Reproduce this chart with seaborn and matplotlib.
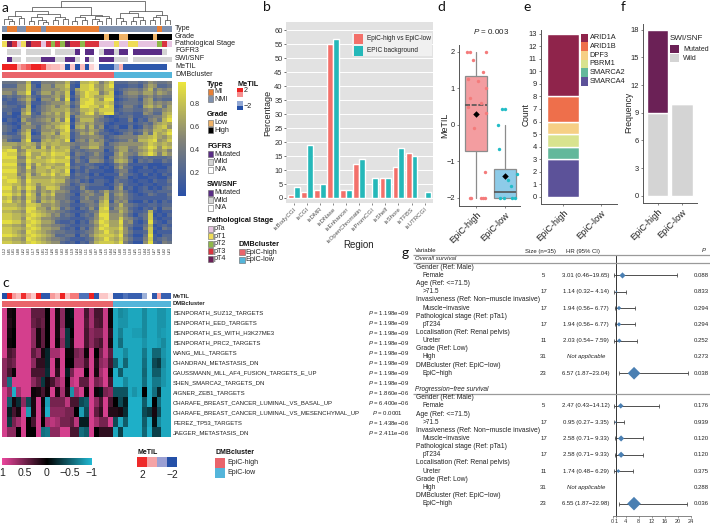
#!/usr/bin/env python3
# -*- coding: utf-8 -*-
"""
Multi panel methylation figure: heatmaps (a, c), region bars (b), MeTIL box (d),
stacked counts (e, f) and the cox forest plot (g).
"""

import numpy as np
import pandas as pd
import matplotlib
matplotlib.use('Agg')
import matplotlib.pyplot as plt
from matplotlib.colors import LinearSegmentedColormap, ListedColormap
from matplotlib.patches import Rectangle
import seaborn as sns

#%% data panel a
type_codes = "N MM NN MMM N MMMMMMMMMMM NNNNNNNNNNNN M NN"
grade_codes = "HHHHHHHHHHHHHHHHHHHHH L HH LL HHHHH L HHH"
stage_codes = "14 3a1 4 33 a 3 2 3 2 4 33 2 333 aaa 1 aa 11 aaaa 2 3 a"
fgfr3_codes = "N WWW N WWWWW N WWWW M N MM N W MM W MM N MMMMMM W N"
swi_codes = "N M WW N WWW MMM WW MM W N M W N MMM WWW N WWWWWWWW"
metil_a = [2, 2, 2, 0.8, 1.2, 1.5, 2, 2, 1.7, 0.7, 0.6, 0.6, 0.4, -2, 0.5, -2, 0.6, -2, 0.4, 0.1,
           -1.9, -1.9, -1.9, -0.9, 0.7, -1.9, -1.9, -1.9, -1.9, -1.9, -1.9, -1.9, -1.9, -1.9, 0]
dmb_codes = "HHHHHHHHHHHHHHHHHHHHHHH LLLLLLLLLLLL"

# one digit per column, beta value is about digit / 10 + 0.05
beta_rows = [
    "33344 71144 45572 17787 46822 23323 54334",
    "22255 82055 36681 08896 57911 12214 65223",
    "44455 82255 55671 68897 57712 34435 73545",
    "55366 91366 46580 57988 46801 45546 64654",
    "23234 62144 56481 47986 68812 34424 53433",
    "12145 73055 47390 38897 59901 23315 62322",
    "21123 61134 55572 48997 78712 33325 64545",
    "32212 70245 64661 39988 69801 44216 75636",
    "22115 71245 66673 47786 88812 33224 53356",
    "13006 82156 57584 36895 79921 22115 42267",
    "11015 52345 56581 56665 41012 23112 34468",
    "02106 43456 47490 47774 32101 14021 45379",
    "21014 63345 66781 56564 41011 12123 25676",
    "32105 54256 57890 67473 50120 03014 36785",
    "32025 71255 65792 45465 31012 23235 47768",
    "21136 80166 74881 36574 22101 34126 38679",
    "43225 82256 56781 34455 41234 44466 78657",
    "52116 91167 67690 45364 52123 35377 89568",
    "66656 76476 77664 34466 51345 55556 87676",
    "77547 67385 86773 25577 42256 64467 98587",
    "89945 87776 87782 32344 40246 63456 86564",
    "98856 96687 98871 43235 31157 54367 97475",
    "99944 86867 87792 31244 30356 52123 22223",
    "88855 97778 98881 42155 41267 63032 31132",
    "99943 85867 76691 22321 10135 41111 00011",
    "88854 94778 67782 31232 01046 32002 01002",
    "99954 75776 87690 21311 10024 41011 10112",
    "88845 84687 96781 32202 01115 32102 01021",
    "98864 86666 76651 22311 10023 30100 11002",
    "89975 97777 87742 31202 21032 21011 02113",
    "88775 87577 76541 24322 20135 21101 10112",
    "99686 98468 87432 15211 11046 12012 01023",
    "88674 86465 75541 13542 46345 31012 21222",
    "99785 97376 84432 04453 37256 42101 32113",
    "78564 87465 64431 13533 57245 42111 11112",
    "89675 96376 75342 04442 68154 51002 02021",
    "77765 88755 65331 12343 78347 43211 22122",
    "88876 99664 76242 03252 89256 52102 13033",
    "77665 98765 54321 11234 88447 53112 71011",
    "88776 89876 45232 02325 99556 42023 80102",
    "88775 98755 43221 11235 89558 54213 81011",
    "99886 89866 52112 02146 98669 45102 92102",
    "77665 98755 44321 12235 89668 43113 70121",
    "88776 89866 55212 03146 98779 52004 81032",
    "88765 98765 43322 12346 79768 53112 80111",
    "99876 89876 52233 03257 88879 42003 91022",
    "77665 98765 44321 11236 79768 53114 81232",
    "88776 89876 55212 02147 88879 42005 92143",
]
sample_ids = ['U%02d' % n for n in [12, 5, 31, 8, 22, 3, 17, 29, 1, 14, 26, 9, 33, 6, 19, 24, 2, 11,
                                    35, 7, 28, 15, 4, 21, 30, 10, 18, 25, 13, 34, 16, 27, 20, 32, 23]]

# dendrogram, [height, left, right], L is a leaf
L = 0
a1 = [.36, [.24, L, [.14, L, L]], [.26, L, L]]
a2 = [.46, [.30, [.16, L, L], [.20, L, [.12, L, L]]], [.34, [.18, L, L], [.22, L, L]]]
b1 = [.42, [.30, [.16, L, L], [.20, L, L]], [.38, [.24, L, [.14, L, L]], [.26, L, L]]]
c1 = [.58, [.50, [.28, L, [.16, L, L]], [.30, [.16, L, L], [.20, L, L]]],
      [.42, [.30, [.18, L, L], L], [.20, L, L]]]
tree = [1.0, [.75, [.57, a1, a2], b1], c1]

#%% data panel b
regions = ['isBodyCGI', 'isCGI', 'isDMR', 'isDNase', 'isEnhancer', 'isOpenChromatin',
           'isPromCGI', 'isShelf', 'isShore', 'isTFBS', 'isUTRCGI']
epic_high_low = [1, 2, 3, 55, 3, 12, 0, 7, 11, 16, 0]
epic_background = [4, 19, 5, 57, 3, 14, 7, 7, 18, 15, 2]

#%% data panel c
gene_sets = ['BENPORATH_SUZ12_TARGETS', 'BENPORATH_EED_TARGETS', 'BENPORATH_ES_WITH_H3K27ME3',
             'BENPORATH_PRC2_TARGETS', 'WANG_MLL_TARGETS', 'CHANDRAN_METASTASIS_DN',
             'GAUSSMANN_MLL_AF4_FUSION_TARGETS_E_UP', 'SHEN_SMARCA2_TARGETS_DN', 'AIGNER_ZEB1_TARGETS',
             'CHARAFE_BREAST_CANCER_LUMINAL_VS_BASAL_UP', 'CHARAFE_BREAST_CANCER_LUMINAL_VS_MESENCHYMAL_UP',
             'PEREZ_TP53_TARGETS', 'JAEGER_METASTASIS_DN']
gene_set_p = ['1.198e−09'] * 8 + ['1.860e−06', '6.400e−06', '0.0001', '1.438e−06', '2.411e−06']
metil_c = [-2, 2, 0.9, 0.6, 1.9, 0.9, 0.5, 2, -1.9, -1.9, 0.9, 0.6, 2, 0.6, 1.2, 1.2, -1.6, -1.6, 2, -1.9,
           0.5, 0.5, 0.2, -1.9, -1.9, -1.6, -1.8, -1.8, -1.8, -0.9, 0, -1.9, 0.8, -1.8, -1.8]
enrichment = [
    [.9, .1, .05, .9, .9, .9, .4, .4, .4, 0, .9, .1, .6, -.05, -.1, .9, .9, .3, .7, .3, .3, .85, .05, -.9, -.75, -.8, -.9, -.9, -.9, -.75, -.9, -.9, -.8, -.8, -.9],
    [.9, .15, .05, .9, .9, .9, .45, .35, .45, 0, .9, .1, .6, -.05, -.05, .9, .9, .35, .7, .35, .3, .85, .05, -.9, -.8, -.8, -.9, -.9, -.9, -.75, -.9, -.9, -.8, -.8, -.9],
    [.9, .1, 0, .9, .9, .9, .6, .1, .4, 0, .9, .1, .7, -.3, 0, .9, .9, .3, .6, .5, .5, .85, .2, -.9, -.7, -.9, -.9, -.85, -.85, -.75, -.9, -.9, -.8, -.85, -.9],
    [.9, .05, 0, .9, .9, .9, .6, .1, .4, 0, .9, .05, .6, -.3, .1, .9, .9, .3, .6, .4, .3, .85, .1, -.9, -.6, -.9, -.9, -.9, -.9, -.8, -.9, -.9, -.85, -.75, -.9],
    [.9, .3, .4, .9, .9, .9, .4, .6, .1, -.2, .7, .7, .9, .05, .05, .5, .6, .05, .9, 0, .5, .85, .4, -.9, -.9, -.75, -.9, -.9, -.9, -.65, -.9, -.55, -.55, -.8, -.9],
    [.6, .4, .5, .9, .9, .9, .6, .2, .2, -.2, .9, .1, .9, 0, 0, .6, .6, .3, .9, .15, .6, .7, .3, -.5, -.9, -.55, -.9, -.9, -.9, -.6, -.9, -.4, -.3, -.75, -.9],
    [.6, .3, .05, .9, .9, .9, .3, .3, .3, -.25, .9, .2, .9, -.15, .5, .9, .9, 0, .9, .1, .7, .9, .05, -.95, -.5, -.9, -.9, -.9, -.9, -.55, -.9, -.5, -.5, -.8, -.9],
    [.6, -.6, .9, .9, .9, .9, .6, .4, -.3, .1, .3, .6, .8, 0, .8, .9, .4, .4, .9, .5, .6, .9, .3, -.95, -.95, -.75, -.9, -.9, -.9, -.6, -.9, -.65, -.65, -.8, -.9],
    [.9, .6, -.95, .7, .9, .9, .05, .1, .3, .05, .9, .1, .7, .1, -.8, .7, .9, .05, .9, .05, -.1, .5, .6, -.45, -.45, -.45, -.9, -.8, -.9, 0, -.9, -.6, -.2, -.9, -.9],
    [.9, -.5, .1, -.25, .6, -.4, .1, .9, .05, -.85, .5, .5, .5, .8, .3, .3, -.4, -.5, .9, .6, .3, .9, .3, 0, -.4, -.15, -.95, -.95, -.95, -.5, -.9, 0, -.6, -.9, -.9],
    [.9, -.15, .3, .1, .9, -.85, .1, .9, .1, -.95, .6, .6, .6, .5, .5, 0, -.85, -.4, .9, .4, .2, .9, .15, .15, .1, -.25, -.95, -.95, -.95, -.4, -.3, .1, -.4, -.9, -.9],
    [.9, -.3, .5, .7, .9, 0, .3, .9, 0, .7, .8, .7, .5, .5, .4, .8, -.15, -.15, .9, .7, .5, .5, .9, -.4, -.9, -.5, -.95, -.95, -.95, -.5, -.9, -.1, -.75, -.9, -.9],
    [.9, .6, .6, 0, .9, 0, 0, .9, -.6, -.65, .6, .6, .9, .9, .3, .3, -.6, -.5, .9, 0, .2, .2, .2, -.9, -.35, -.95, -.95, -.95, -.95, -.55, -.95, -.35, -.35, -.9, -.9],
]

#%% data panel d, offset is the jitter
groups = ['EpiC-high', 'EpiC-low']
metil_high = [2, 2, 2, 1.77, 1.44, 1.25, 1.21, 1.01, 0.75, 0.59, 0.5, 0.34, -0.08, -1.3, -2, -2, -2, -2, -2]
offset_high = [-.33, -.22, .36, -.09, .25, -.28, .07, .33, -.2, .16, -.28, .33, -.07, .31, -.2, -.16, .18, .24, .3]
metil_low = [0.44, 0.44, 0, -0.67, -1.35, -1.5, -1.68, -2, -2, -2, -2]
offset_low = [-.09, .01, -.23, -.21, .4, .1, .22, -.16, -.05, .24, .36]
box_q1 = [-0.7, -2]
box_med = [0.55, -1.83]
box_q3 = [1.35, -1.2]
box_lo = [-2, -2]
box_hi = [2, 0]
box_mean = [0.3, -1.4]

#%% data panel e and f
swi_genes = ['SMARCA4', 'SMARCA2', 'PBRM1', 'DPF3', 'ARID1B', 'ARID1A']
swi_gene_count = [3, 1, 1, 1, 2, 5]
swi_mutated = [9, 0]
swi_wild = [9, 10]

#%% data panel g
os_hr = [3.01, 1.14, 1.94, 1.94, 2.03, np.nan, 6.57]
os_lo = [0.46, 0.32, 0.56, 0.56, 0.54, np.nan, 1.87]
os_hi = [19.65, 4.14, 6.77, 6.77, 7.59, np.nan, 23.04]
os_p = ['0.088', '0.833', '0.294', '0.294', '0.252', '0.273', '0.038']
pfs_hr = [2.47, 0.95, 2.58, 2.58, 1.74, np.nan, 6.55]
pfs_lo = [0.43, 0.27, 0.71, 0.71, 0.48, np.nan, 1.87]
pfs_hi = [14.12, 3.35, 9.33, 9.33, 6.29, np.nan, 22.98]
pfs_p = ['0.176', '0.939', '0.120', '0.120', '0.375', '0.288', '0.036']
cox_size = [5, 17, 17, 17, 11, 31, 23]
cox_head = ['Gender (Ref: Male)', 'Age (Ref: <=71.5)', 'Invasiveness (Ref: Non−muscle invasive)',
            'Pathological stage (Ref: pTa1)', 'Localisation (Ref: Renal pelvis)', 'Grade (Ref: Low)',
            'DMBcluster (Ref: EpiC−low)']
cox_level = ['Female', '>71.5', 'Muscle−invasive', 'pT234', 'Ureter', 'High', 'EpiC−high']

#%% style
sns.set_theme(style='white')
plt.rcParams['font.family'] = ['Liberation Sans', 'DejaVu Sans']
plt.rcParams['axes.linewidth'] = 0.7
plt.rcParams['axes.unicode_minus'] = True
plt.rcParams['mathtext.fontset'] = 'custom'
plt.rcParams['mathtext.it'] = 'Liberation Sans:italic'
plt.rcParams['mathtext.rm'] = 'Liberation Sans'

W, H = 710, 525
fig = plt.figure(figsize=(W / 100, H / 100), dpi=100)

def px_axes(x0, y0, x1, y1, **kw):
    return fig.add_axes([x0 / W, 1 - y1 / H, (x1 - x0) / W, (y1 - y0) / H], **kw)

# overlay in pixel coordinates for labels and legends
ov = px_axes(0, 0, W, H, zorder=20)
ov.set_xlim(0, W)
ov.set_ylim(H, 0)
ov.axis('off')
ov.patch.set_alpha(0)

def put(x, y, s, size=5.2, ha='left', va='center', **kw):
    kw.setdefault('color', '#222222')
    ov.text(x, y, s, fontsize=size, ha=ha, va=va, **kw)

def swatch(x, y, w, h, color, edge='#666666'):
    ov.add_patch(Rectangle((x, y), w, h, facecolor=color, edgecolor=edge, linewidth=0.4))

for lab, lx, ly in [('a', 2, 8), ('b', 263, 7), ('c', 2, 283), ('d', 437, 7), ('e', 523, 7), ('f', 621, 7), ('g', 402, 253)]:
    ov.text(lx, ly, lab, fontsize=10, family='Lato', color='#111111', va='center')

#%% panel a
mi_col = {'M': '#e87f35', 'N': '#8091ae'}
grade_col = {'H': '#000000', 'L': '#efb266'}
stage_col = {'a': '#e6c3e0', '1': '#efdc58', '2': '#8fb84a', '3': '#d9343f', '4': '#6b2058'}
mut_col = {'M': '#5a2d86', 'W': '#d4d4d4', 'N': '#ffffff'}
dmb_col = {'H': '#e9646b', 'L': '#54b5da'}
metil_cmap = LinearSegmentedColormap.from_list('metil', ['#2450a8', '#ffffff', '#ee2222'])

def codes_row(codes, colors, x0, y0, x1, y1):
    codes = codes.replace(' ', '')
    keys = list(colors)
    ax = px_axes(x0, y0, x1, y1)
    sns.heatmap(np.array([[keys.index(c) for c in codes]]), ax=ax, cbar=False, xticklabels=False, yticklabels=False,
                cmap=ListedColormap([colors[k] for k in keys]), vmin=-0.5, vmax=len(keys) - 0.5)
    return ax

def metil_row(values, x0, y0, x1, y1):
    ax = px_axes(x0, y0, x1, y1)
    sns.heatmap(np.array([values]), ax=ax, cbar=False, xticklabels=False, yticklabels=False,
                cmap=metil_cmap, vmin=-2, vmax=2)

def draw_tree(ax, node, next_leaf):
    if node == L:
        return next_leaf, 0, next_leaf + 1
    xl, hl, next_leaf = draw_tree(ax, node[1], next_leaf)
    xr, hr, next_leaf = draw_tree(ax, node[2], next_leaf)
    ax.plot([xl, xl, xr, xr], [hl, node[0], node[0], hr], color='#444444', lw=0.5, solid_joinstyle='miter')
    return (xl + xr) / 2, node[0], next_leaf

ax = px_axes(2, 0.5, 172, 24.5)
draw_tree(ax, tree, 0.5)
ax.set_xlim(0, 35)
ax.set_ylim(0, 1.02)
ax.axis('off')

ax_left, ax_right = 2, 172
codes_row(type_codes, mi_col, ax_left, 26, ax_right, 32)
codes_row(grade_codes, grade_col, ax_left, 33.5, ax_right, 39.5)
codes_row(stage_codes, stage_col, ax_left, 41, ax_right, 47)
codes_row(fgfr3_codes, mut_col, ax_left, 49, ax_right, 54.5)
codes_row(swi_codes, mut_col, ax_left, 56.5, ax_right, 62)
metil_row(metil_a, ax_left, 64, ax_right, 70)
codes_row(dmb_codes, dmb_col, ax_left, 71.5, ax_right, 78)
for lab, ly in zip(['Type', 'Grade', 'Pathological Stage', 'FGFR3', 'SWI/SNF', 'MeTIL', 'DMBcluster'],
                   [28.5, 36, 43.5, 51, 59, 67, 74.5]):
    put(175, ly, lab, size=5.2)

beta = np.array([[int(d) / 10 + 0.05 for d in r.replace(' ', '')] for r in beta_rows])
beta_cmap = LinearSegmentedColormap.from_list('beta', ['#2a50a8', '#848478', '#ece63c'])
ax = px_axes(2, 81, 172, 244)
cax = px_axes(178, 82, 186, 196)
sns.heatmap(beta, ax=ax, cbar_ax=cax, cmap=beta_cmap, vmin=0, vmax=0.99, yticklabels=False,
            xticklabels=sample_ids)
ax.tick_params(axis='x', length=0, pad=2, labelsize=2.8, labelrotation=90, labelcolor='#333333')
cax.set_yticks([0.2, 0.4, 0.6, 0.8])
cax.set_yticklabels(['0.2', '0.4', '0.6', '0.8'])
cax.tick_params(length=0, pad=3, labelsize=5.2, labelcolor='#333333')

def legend_block(x, y, title, names, colors):
    put(x, y, title, size=5.3, fontweight='bold', color='#111111')
    for k, (name, col) in enumerate(zip(names, colors)):
        yk = y + 7.6 * (k + 1)
        swatch(x + 0.5, yk - 3, 5.6, 6, col)
        put(x + 7, yk, name, size=5.2)

legend_block(207, 84, 'Type', ['MI', 'NMI'], [mi_col['M'], mi_col['N']])
legend_block(207, 115, 'Grade', ['Low', 'High'], [grade_col['L'], grade_col['H']])
legend_block(207, 146.7, 'FGFR3', ['Mutated', 'Wild', 'N/A'], [mut_col['M'], mut_col['W'], mut_col['N']])
legend_block(207, 185, 'SWI/SNF', ['Mutated', 'Wild', 'N/A'], [mut_col['M'], mut_col['W'], mut_col['N']])
legend_block(207, 221, 'Pathological Stage', ['pTa', 'pT1', 'pT2', 'pT3', 'pT4'], list(stage_col.values()))
legend_block(238.5, 244.5, 'DMBcluster', ['EpiC-high', 'EpiC-low'], [dmb_col['H'], dmb_col['L']])

put(237, 84, 'MeTIL', size=5.3, fontweight='bold', color='#111111')
cax = px_axes(236.5, 88, 242.5, 110)
sns.heatmap(np.array([[2], [1], [0], [-1], [-2]]), ax=cax, cbar=False, cmap=metil_cmap, vmin=-2, vmax=2,
            xticklabels=False, yticklabels=False)
put(244, 91, '2', size=5.2)
put(244, 106.5, '−2', size=5.2)

#%% panel b
df_regions = pd.DataFrame({'Region': regions * 2,
                           'Percentage': epic_high_low + epic_background,
                           'set': ['EpiC-high vs EpiC-low'] * 11 + ['EPIC background'] * 11})
ax = px_axes(286, 22, 432.5, 203)
ax.set_facecolor('#e2e2e2')
ax.grid(True, color='white', lw=0.7)
ax.set_axisbelow(True)
sns.barplot(data=df_regions, x='Region', y='Percentage', hue='set', ax=ax, width=0.9, gap=0,
            palette=['#f3706a', '#25b8b9'], saturation=1, legend=False)
ax.set_xlim(-0.6, 10.6)
ax.set_ylim(-1.8, 63)
ax.set_yticks(range(0, 61, 5))
ax.tick_params(axis='y', length=1.5, width=0.5, pad=1, labelsize=5.4, labelcolor='#333333', color='#333333', left=True)
ax.tick_params(axis='x', length=1.5, width=0.5, pad=1, labelsize=4.4, labelcolor='#555555', color='#555555', bottom=True)
plt.setp(ax.get_xticklabels(), rotation=45, ha='right', rotation_mode='anchor')
ax.set_xlabel('')
ax.set_ylabel('')
sns.despine(ax=ax, left=True, bottom=True)
put(268, 113, 'Percentage', size=6.5, rotation=90, ha='center')
put(359, 245, 'Region', size=7, ha='center')
ov.add_patch(Rectangle((352, 33), 80, 23, facecolor='#f0f0f0', edgecolor='none'))
swatch(353.5, 34, 9.5, 9.5, '#f3706a', edge='none')
swatch(353.5, 46, 9.5, 9.5, '#25b8b9', edge='none')
put(367, 38.7, 'EpiC-high vs EpiC-low', size=4.7)
put(367, 50.7, 'EPIC background', size=4.7)

#%% panel c
metil_row(metil_c, 2, 293.3, 171, 299.3)
codes_row(dmb_codes, dmb_col, 2, 300.7, 171, 306.7)
put(173, 296.3, 'MeTIL', size=4.2, fontweight='bold')
put(173, 303.7, 'DMBcluster', size=4.2, fontweight='bold')

enrich_cmap = LinearSegmentedColormap.from_list('enrich', ['#20b8d2', '#000000', '#ea459c'])
ax = px_axes(2, 307.7, 171, 437.3)
cax = px_axes(2.3, 457.7, 91.7, 465)
sns.heatmap(np.array(enrichment), ax=ax, cbar_ax=cax, cmap=enrich_cmap, vmin=-1, vmax=1, xticklabels=False,
            yticklabels=False, cbar_kws={'orientation': 'horizontal'})
cax.invert_xaxis()
cax.set_xticks([1, 0.5, 0, -0.5, -1])
cax.set_xticklabels(['1', '0.5', '0', '−0.5', '−1'])
cax.tick_params(length=0, pad=2, labelsize=7.6, labelcolor='#222222')
for k, name in enumerate(gene_sets):
    put(173, 312.7 + 10 * k, name, size=4.3)
    put(368.5 if gene_set_p[k] != '0.0001' else 371.5, 312.7 + 10 * k, r'$\mathit{P}$ = ' + gene_set_p[k], size=4.3)

put(137, 452.5, 'MeTIL', size=5, fontweight='bold', color='#111111')
for k, col in enumerate(['#ee2a2a', '#f5a3a6', '#9a9fd3', '#2450a8']):
    swatch(137 + 10 * k, 457, 10, 10, col, edge='none')
put(142, 475, '2', size=7.4, ha='center')
put(172, 475, '−2', size=7.4, ha='center')
put(215, 452.5, 'DMBcluster', size=5, fontweight='bold', color='#111111')
swatch(215, 458, 10, 9.5, '#e9646b', edge='none')
swatch(215, 468, 10, 9.5, '#54b5da', edge='none')
put(227, 463, 'EpiC-high', size=5)
put(227, 473, 'EpiC-low', size=5)

#%% panel d
df_high = pd.DataFrame({'x': 0 + np.array(offset_high), 'MeTIL': metil_high})
df_low = pd.DataFrame({'x': 1 + np.array(offset_low), 'MeTIL': metil_low})
ax = px_axes(459, 45, 520, 206)
stats = [{'med': box_med[i], 'q1': box_q1[i], 'q3': box_q3[i], 'whislo': box_lo[i], 'whishi': box_hi[i], 'fliers': []}
         for i in range(2)]
bp = ax.bxp(stats, positions=[0, 1], widths=0.75, patch_artist=True, showcaps=False, showfliers=False,
            boxprops={'edgecolor': '#8c8c8c', 'linewidth': 0.9},
            whiskerprops={'color': '#8c8c8c', 'linewidth': 0.9},
            medianprops={'color': '#555555', 'linewidth': 1.2})
bp['boxes'][0].set_facecolor('#f39da0')
bp['boxes'][1].set_facecolor('#8dcbe8')
bp['medians'][0].set_linestyle((0, (3, 1)))
sns.scatterplot(data=df_high, x='x', y='MeTIL', ax=ax, color='#f47b7b', s=6, linewidth=0, zorder=4)
sns.scatterplot(data=df_low, x='x', y='MeTIL', ax=ax, color='#22bcc6', s=6, linewidth=0, zorder=4)
sns.scatterplot(x=[0, 1], y=box_mean, ax=ax, color='black', marker='D', s=11, linewidth=0, zorder=5)
ax.set_xlim(-0.59, 1.52)
ax.set_ylim(-2.22, 2.19)
ax.set_xticks([0, 1])
ax.set_xticklabels(groups)
ax.set_yticks([-2, -1, 0, 1, 2])
ax.set_yticklabels(['−2', '−1', '0', '1', '2'])
ax.set_xlabel('')
ax.set_ylabel('')

def clean_axis(ax):
    sns.despine(ax=ax)
    for side in ['left', 'bottom']:
        ax.spines[side].set_color('#555555')
        ax.spines[side].set_linewidth(0.7)
    ax.tick_params(axis='y', length=1.5, width=0.5, pad=1.5, labelsize=5.4, labelcolor='#222222', color='#555555', left=True)
    ax.tick_params(axis='x', length=1.5, width=0.5, pad=1.5, labelsize=6.6, labelcolor='#222222', color='#555555', bottom=True)
    plt.setp(ax.get_xticklabels(), rotation=45, ha='right', rotation_mode='anchor')

clean_axis(ax)
put(445, 125, 'MeTIL', size=6.4, rotation=90, ha='center')
put(491.5, 32, r'$\mathit{P}$ = 0.003', size=5.8, ha='center')

#%% panel e
gene_cols = ['#5c5299', '#63b89b', '#d8e38f', '#f6cf85', '#ee6f4b', '#8f244b']
ax = px_axes(541, 30, 617, 204)
bottom = 0
for gene, n, col in zip(swi_genes, swi_gene_count, gene_cols):
    sns.barplot(x=[0], y=[n], bottom=bottom, ax=ax, color=col, saturation=1, width=0.84, native_scale=True)
    bottom += n
ax.set_xlim(-0.58, 1.42)
ax.set_ylim(-0.58, 13.3)
ax.set_xticks([0, 1])
ax.set_xticklabels(groups)
ax.set_yticks(range(14))
ax.set_xlabel('')
ax.set_ylabel('')
clean_axis(ax)
put(525.7, 115, 'Count', size=6.2, rotation=90, ha='center')
for k, (gene, col) in enumerate(zip(swi_genes[::-1], gene_cols[::-1])):
    yk = 33.5 + 8.7 * k
    swatch(581, yk, 7, 8.7, col, edge='none')
    put(589.5, yk + 4.3, gene, size=5.3)

#%% panel f
ax = px_axes(643, 24, 697, 203)
sns.barplot(x=[0, 1], y=swi_wild, ax=ax, color='#d4d4d4', saturation=1, width=0.88, native_scale=True)
sns.barplot(x=[0, 1], y=swi_mutated, bottom=swi_wild, ax=ax, color='#6b2156', saturation=1, width=0.88, native_scale=True)
ax.set_xlim(-0.59, 1.6)
ax.set_ylim(-0.76, 18.6)
ax.set_xticks([0, 1])
ax.set_xticklabels(groups)
ax.set_yticks(range(0, 19, 3))
ax.set_xlabel('')
ax.set_ylabel('')
clean_axis(ax)
put(629, 112, 'Frequency', size=6.2, rotation=90, ha='center')
put(670, 38, 'SWI/SNF', size=5.8)
swatch(670, 45, 9, 8, '#6b2156', edge='none')
swatch(670, 54, 9, 8, '#d4d4d4', edge='none')
put(683, 49.5, 'Mutated', size=5)
put(683, 58.5, 'Wild', size=5)

#%% panel g
row_h = 8.15
row0 = 267.3
ax = px_axes(612.7, 255, 690.7, 516)
ax.set_xlim(0, 24)
ax.set_ylim((516 - row0) / row_h, (255 - row0) / row_h)

os_area = [10, 1, 5, 5, 5, 0, 42]
pfs_area = [8, 1, 10, 10, 4, 0, 48]
for start, hr, lo, hi, area in [(0, os_hr, os_lo, os_hi, os_area), (16, pfs_hr, pfs_lo, pfs_hi, pfs_area)]:
    rows = np.array([start + 2 * k + 1 for k in range(7)])
    keep = ~np.isnan(hr)
    ax.hlines(rows[keep], np.array(lo)[keep], np.array(hi)[keep], color='#333333', lw=0.6, zorder=2)
    for edge in [lo, hi]:
        ax.vlines(np.array(edge)[keep], rows[keep] - 0.25, rows[keep] + 0.25, color='#333333', lw=0.5, zorder=2)
    sns.scatterplot(x=np.array(hr)[keep], y=rows[keep], ax=ax, marker='D', s=np.array(area)[keep], color='#4a7fb2',
                    linewidth=0, zorder=3, legend=False)
ax.axvline(1, color='#333333', lw=0.7, zorder=1)
ax.set_xticks([0, 1, 4, 8, 12, 16, 20, 24])
ax.set_xticklabels(['0', '1', '4', '8', '12', '16', '20', '24'])
ax.set_yticks([])
sns.despine(ax=ax, left=True)
ax.spines['bottom'].set_color('#555555')
ax.spines['bottom'].set_linewidth(0.5)
ax.tick_params(axis='x', length=1.5, width=0.4, pad=1, labelsize=4, labelcolor='#333333', color='#555555', bottom=True)
ax.patch.set_alpha(0)

gs = 4.3
put(415, 251, 'Variable', size=gs)
put(525, 251, 'Size (n=35)', size=gs)
put(566, 251, 'HR (95% CI)', size=gs)
put(701.5, 251, 'P', size=gs, style='italic')
for ly in [255, 263, 393.5]:
    ov.plot([413, 710], [ly, ly], color='#9a9a9a', lw=0.9, solid_capstyle='butt')
put(415, 259, 'Overall survival', size=gs, style='italic')
put(415, row0 + 15 * row_h, 'Progression−free survival', size=gs + 0.4, style='italic')

for start, hr, lo, hi, pv in [(0, os_hr, os_lo, os_hi, os_p), (16, pfs_hr, pfs_lo, pfs_hi, pfs_p)]:
    for k in range(7):
        y_head = row0 + (start + 2 * k) * row_h
        y_val = y_head + row_h
        put(416, y_head, cox_head[k], size=4.9)
        put(422.5, y_val, cox_level[k], size=4.7)
        put(543.5, y_val, str(cox_size[k]), size=gs, ha='center')
        if np.isnan(hr[k]):
            put(586, y_val, 'Not applicable', size=gs, ha='center', style='italic')
        else:
            txt = '%.2f (%.2f−%5.2f)' % (hr[k], lo[k], hi[k])
            put(586, y_val, txt, size=gs, ha='center')
        put(694, y_val, pv[k], size=gs)

plt.savefig('out.png', dpi=100)
